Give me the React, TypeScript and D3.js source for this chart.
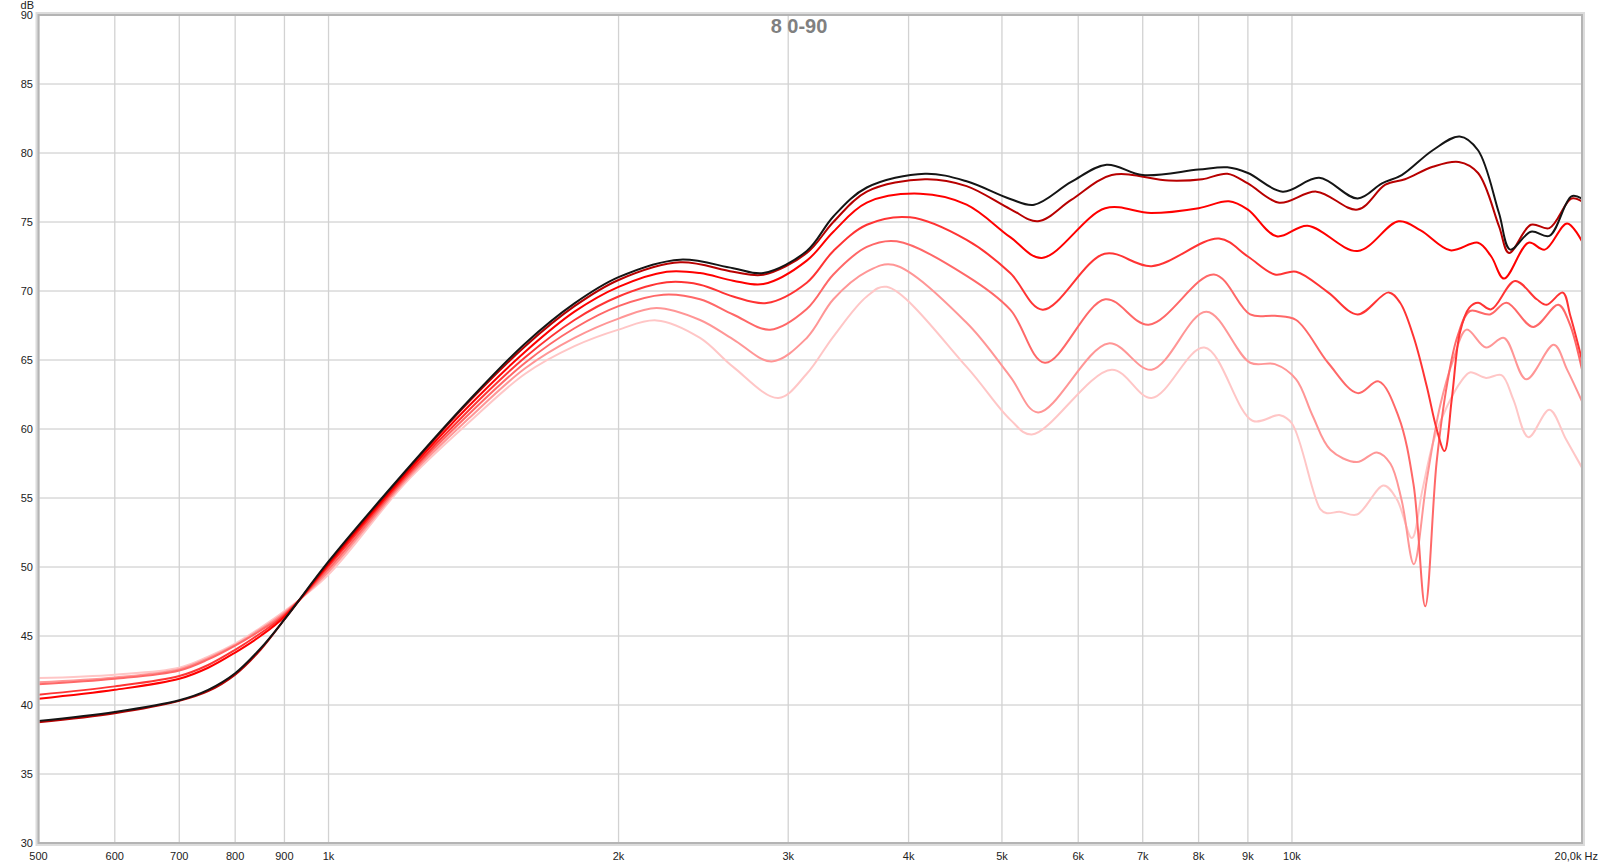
import React from "react";
import * as d3 from "d3";

type Pt = [number, number];

const TITLE = "8 0-90";
const FREQ_TICKS = [500, 600, 700, 800, 900, 1000, 2000, 3000, 4000, 5000, 6000, 7000, 8000, 9000, 10000, 20000];
const FREQ_LABELS = ["500", "600", "700", "800", "900", "1k", "2k", "3k", "4k", "5k", "6k", "7k", "8k", "9k", "10k", "20,0k Hz"];
const DB_TICKS = [30, 35, 40, 45, 50, 55, 60, 65, 70, 75, 80, 85, 90];

const deg0: Pt[] = [[500,38.85],[600,39.5],[700,40.35],[750,41.1],[800,42.3],[850,44.1],[900,46.2],[1000,50.4],[1200,56.9],[1400,62.1],[1600,66.2],[1800,69.1],[2000,71.0],[2317,72.27],[2630,71.65],[2827,71.3],[3136,72.9],[3342,75.4],[3620,77.5],[4160,78.5],[4595,77.95],[5100,76.67],[5400,76.25],[5900,77.9],[6420,79.15],[7000,78.4],[8000,78.8],[8570,78.96],[9000,78.55],[9780,77.2],[10670,78.2],[11700,76.7],[12400,77.8],[13000,78.4],[14000,80.2],[14930,81.2],[15600,80.2],[16400,75.65],[16850,73.0],[17700,74.3],[18500,74.0],[19500,76.86],[20000,76.7]];
const deg15: Pt[] = [[500,38.75],[600,39.4],[700,40.3],[750,41.0],[800,42.2],[850,44.0],[900,46.2],[1000,50.3],[1200,56.8],[1400,62.0],[1600,66.0],[1800,68.9],[2000,70.8],[2317,72.08],[2630,71.4],[2827,71.18],[3136,72.75],[3342,75.0],[3620,77.2],[4160,78.1],[4595,77.6],[5100,75.94],[5450,75.05],[5900,76.6],[6500,78.4],[7450,78.0],[8070,78.1],[8570,78.5],[9000,77.8],[9700,76.4],[10600,77.2],[11700,75.9],[12500,77.7],[13100,78.1],[14000,79.0],[14900,79.35],[15600,78.55],[16400,74.7],[16800,72.75],[17700,74.8],[18500,74.56],[19500,76.7],[20000,76.5]];
const deg30: Pt[] = [[500,40.45],[600,41.1],[700,41.9],[750,42.7],[800,43.8],[850,45.0],[900,46.4],[1000,50.2],[1200,56.65],[1400,61.7],[1600,65.6],[1800,68.5],[2000,70.3],[2244,71.4],[2430,71.3],[2630,70.75],[2827,70.5],[3136,72.2],[3342,74.3],[3620,76.4],[4111,77.05],[4595,76.26],[5100,73.9],[5500,72.4],[6400,76.0],[7140,75.65],[8000,76.0],[8600,76.5],[9000,75.9],[9640,73.96],[10380,74.73],[11700,72.9],[12900,75.05],[13600,74.4],[14600,72.95],[15600,73.5],[16100,72.5],[16600,70.9],[17600,73.5],[18300,73.0],[19300,74.9],[20000,73.6]];
const deg45: Pt[] = [[500,40.75],[600,41.35],[700,42.1],[750,42.9],[800,44.0],[850,45.2],[900,46.5],[1000,50.05],[1200,56.5],[1400,61.4],[1600,65.2],[1800,67.9],[2000,69.6],[2244,70.63],[2430,70.46],[2630,69.6],[2849,69.13],[3136,70.6],[3342,72.9],[3620,74.8],[4014,75.34],[4595,73.7],[5100,71.3],[5510,68.65],[6390,72.7],[7150,71.8],[8400,73.8],[9000,72.5],[9600,71.2],[10100,71.4],[10900,69.9],[11700,68.3],[12600,69.9],[12950,69.15],[13370,66.7],[13800,63.1],[14130,60.0],[14400,58.4],[14650,62.15],[14940,67.0],[15280,68.8],[15600,69.15],[16100,68.67],[17040,70.72],[17950,69.4],[18380,69.0],[19100,69.88],[19450,68.2],[20000,65.0]];
const deg60: Pt[] = [[500,41.5],[600,41.9],[700,42.5],[750,43.3],[800,44.3],[850,45.4],[900,46.6],[1000,49.85],[1200,56.35],[1400,61.1],[1600,64.8],[1800,67.3],[2000,68.9],[2226,69.73],[2430,69.4],[2630,68.3],[2873,67.2],[3136,68.7],[3342,71.2],[3620,73.2],[3888,73.6],[4595,71.1],[5100,68.65],[5540,64.8],[6400,69.4],[7100,67.56],[8300,71.2],[9050,68.3],[9600,68.2],[10100,67.9],[10900,64.8],[11700,62.6],[12300,63.45],[12900,60.9],[13370,56.0],[13750,47.15],[14130,57.6],[14500,63.4],[14850,66.7],[15300,68.55],[16050,68.3],[16700,69.15],[17800,67.4],[18900,69.0],[19400,67.7],[20000,64.3]];
const deg75: Pt[] = [[500,41.65],[600,42.0],[700,42.6],[750,43.4],[800,44.35],[850,45.5],[900,46.7],[1000,49.65],[1200,56.2],[1400,60.8],[1600,64.4],[1800,66.6],[2000,68.0],[2190,68.77],[2430,67.9],[2630,66.5],[2884,64.9],[3136,66.6],[3342,69.4],[3620,71.4],[3857,71.9],[4595,67.7],[5100,63.8],[5450,61.2],[6450,66.2],[7150,64.3],[8150,68.5],[9050,64.8],[9600,64.7],[10100,63.6],[10500,61.0],[10960,58.5],[11680,57.6],[12250,58.3],[12650,57.5],[13000,54.8],[13380,50.2],[13800,56.3],[14250,61.7],[14700,65.0],[15180,67.2],[15900,65.9],[16600,66.6],[17500,63.6],[18700,66.1],[19300,64.3],[20000,62.0]];
const deg90: Pt[] = [[500,41.95],[600,42.2],[700,42.7],[750,43.5],[800,44.45],[850,45.6],[900,46.8],[1000,49.45],[1200,56.05],[1400,60.5],[1600,64.0],[1800,66.0],[2000,67.2],[2190,67.87],[2430,66.6],[2630,64.5],[2930,62.25],[3136,64.0],[3342,66.7],[3620,69.6],[3796,70.3],[4595,64.5],[5100,60.68],[5370,59.6],[6500,64.3],[7150,62.25],[8110,65.9],[9100,60.6],[9720,61.0],[10000,60.4],[10700,54.2],[10870,53.9],[11200,54.0],[11680,53.8],[12450,55.9],[12850,54.9],[13320,52.1],[13650,55.5],[14050,59.3],[14500,61.7],[15000,63.5],[15300,64.1],[15900,63.7],[16500,63.9],[16970,62.15],[17600,59.4],[18500,61.4],[19250,59.25],[20000,57.2]];

const SERIES_NAMES = ["90", "75", "60", "45", "30", "15", "0"];
const SERIES_COLORS = ["#ffc6c6", "#ff9696", "#ff6868", "#ff3434", "#ff0000", "#b80000", "#151515"];
const SERIES_DATA = [deg90, deg75, deg60, deg45, deg30, deg15, deg0];

const PLOT = { left: 38.5, right: 1582, top: 15, bottom: 843 };
const FONT = "'Liberation Sans', Arial, sans-serif";

export default function App() {
  const x = d3.scaleLog().domain([500, 20000]).range([PLOT.left, PLOT.right]);
  const y = d3.scaleLinear().domain([30, 90]).range([PLOT.bottom, PLOT.top]);
  const line = d3
    .line<Pt>()
    .x((d) => x(d[0]))
    .y((d) => y(d[1]))
    .curve(d3.curveCatmullRom.alpha(0.5));

  const last = FREQ_TICKS.length - 1;

  return (
    <svg
      width={1600}
      height={865}
      viewBox="0 0 1600 865"
      style={{ position: "absolute", left: 0, top: 0, background: "#fff" }}
    >
      <defs>
        <clipPath id="plotclip">
          <rect x={PLOT.left} y={PLOT.top} width={PLOT.right - PLOT.left} height={PLOT.bottom - PLOT.top} />
        </clipPath>
      </defs>
      <rect x={0} y={0} width={1600} height={865} fill="#fff" />
      {DB_TICKS.slice(1, -1).map((v) => (
        <line key={"h" + v} x1={PLOT.left} x2={PLOT.right} y1={y(v)} y2={y(v)} stroke="#c6c6c6" strokeWidth={1} />
      ))}
      {FREQ_TICKS.slice(1, -1).map((f) => (
        <line key={"v" + f} x1={x(f)} x2={x(f)} y1={PLOT.top} y2={PLOT.bottom} stroke="#d2d2d2" strokeWidth={1.3} />
      ))}
      <g clipPath="url(#plotclip)" fill="none" strokeLinejoin="round" strokeLinecap="round">
        {SERIES_DATA.map((data, i) => (
          <path key={SERIES_NAMES[i]} d={line(data) || ""} stroke={SERIES_COLORS[i]} strokeWidth={2} />
        ))}
      </g>
      <rect
        x={PLOT.left - 1}
        y={PLOT.top - 1}
        width={PLOT.right - PLOT.left + 2}
        height={PLOT.bottom - PLOT.top + 2}
        fill="none"
        stroke="#dcdcdc"
        strokeWidth={4}
      />
      <rect
        x={PLOT.left}
        y={PLOT.top}
        width={PLOT.right - PLOT.left}
        height={PLOT.bottom - PLOT.top}
        fill="none"
        stroke="#b4b4b4"
        strokeWidth={2}
      />
      <g fontFamily={FONT} fontSize={11} fill="#222" textAnchor="end">
        {DB_TICKS.map((v) => (
          <text key={"yl" + v} x={33} y={y(v) + 4}>
            {v}
          </text>
        ))}
        <text x={34} y={9}>dB</text>
      </g>
      <g fontFamily={FONT} fontSize={11} fill="#222">
        {FREQ_TICKS.map((f, i) =>
          i === last ? (
            <text key={"xl" + f} x={1598} y={860} textAnchor="end">
              {FREQ_LABELS[i]}
            </text>
          ) : (
            <text key={"xl" + f} x={x(f)} y={860} textAnchor="middle">
              {FREQ_LABELS[i]}
            </text>
          )
        )}
      </g>
      <text x={799} y={33} textAnchor="middle" fontFamily={FONT} fontWeight="bold" fontSize={20} fill="#808080">
        {TITLE}
      </text>
    </svg>
  );
}
